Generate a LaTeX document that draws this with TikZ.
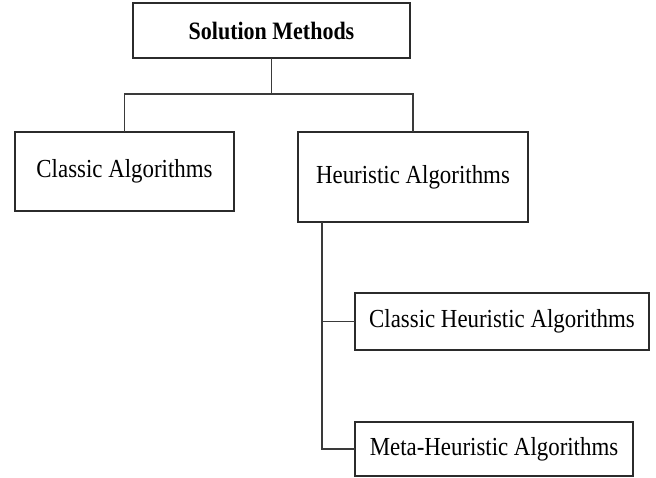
\documentclass[tikz,border=0pt]{standalone}
\usepackage{fontspec}
\setmainfont{Liberation Serif}[FakeStretch=0.88]
\usepackage{xcolor}
\usetikzlibrary{calc,positioning}
\definecolor{edge}{HTML}{2B2B2B}
\definecolor{link}{HTML}{3A3A3A}
\tikzset{
  MethodBox/.style={
    draw=edge, line width=1.3pt,
    inner sep=0pt, outer sep=0pt,
    font=\fontsize{26}{30}\selectfont
  },
  Link/.style={draw=link, line width=1.3pt}
}

\begin{document}
\begin{tikzpicture}[x=1pt, y=-1pt, line join=miter]
  \useasboundingbox (0,0) rectangle (656,477);

  \node[MethodBox, minimum width=277pt, minimum height=55pt,
        font=\fontsize{25}{29}\selectfont\bfseries] (sol) at (271.5,30.5) {Solution Methods};
  \node[MethodBox, minimum width=219pt, minimum height=79pt] (classic) at (124.5,171.5) {Classic Algorithms};
  \node[MethodBox, minimum width=230pt, minimum height=90pt] (heur) at (413,177) {Heuristic Algorithms};
  \node[MethodBox, minimum width=294pt, minimum height=57pt] (chalg) at (502,321.5) {Classic Heuristic Algorithms};
  \node[MethodBox, minimum width=278pt, minimum height=54pt] (meta) at (494,449) {Meta-Heuristic Algorithms};

  \coordinate (fork) at (271.5,94);
  \coordinate (spine) at (322,222);

  % top level split
  \draw[Link] (sol.south) -- (fork);
  \draw[Link] (fork) -| (classic.north);
  \draw[Link] (fork) -| (heur.north);

  % heuristic branch
  \draw[Link] (spine) |- (meta.west);
  \draw[Link] (spine |- chalg.west) -- (chalg.west);
\end{tikzpicture}
\end{document}
